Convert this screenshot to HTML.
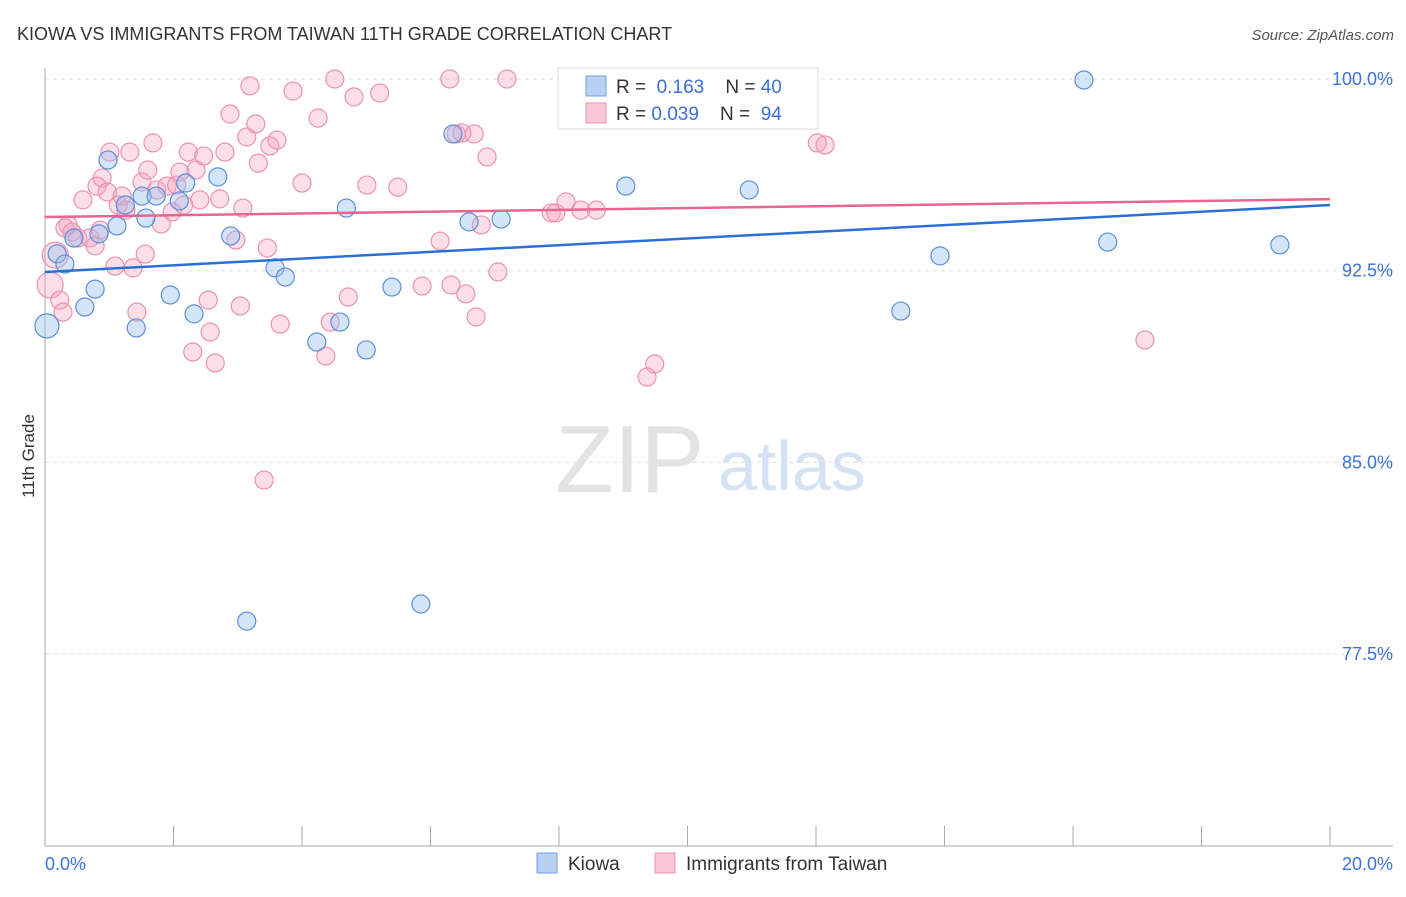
<!DOCTYPE html>
<html><head><meta charset="utf-8"><style>
body{margin:0;background:#fff;font-family:"Liberation Sans",sans-serif}
svg text{font-family:"Liberation Sans",sans-serif}
</style></head><body>
<svg id="c" width="1406" height="892">
<text x="17" y="40" font-size="18" fill="#333">KIOWA VS IMMIGRANTS FROM TAIWAN 11TH GRADE CORRELATION CHART</text>
<text x="1394" y="40" font-size="15" fill="#555" text-anchor="end" font-style="italic">Source: ZipAtlas.com</text>
<text x="0" y="0" transform="translate(34,456) rotate(-90)" font-size="17" fill="#333" text-anchor="middle">11th Grade</text>
<g id="grid"></g>
<text x="555" y="492" font-size="96" fill="#e3e3e3" font-family="Liberation Serif">ZIP</text>
<text x="718" y="490" font-size="70" fill="#d5e2f3">atlas</text>
<g id="pts"></g>
<g id="trend"></g>
<g>
<rect x="558" y="68" width="260" height="61" fill="#fff" stroke="#ddd"/>
<rect x="586" y="76" width="20" height="20" fill="#b8d1f3" stroke="#6f9fe0"/>
<text x="616" y="93" font-size="19" fill="#333">R = <tspan fill="#3a6fd8">&#160;0.163</tspan>&#160;&#160;&#160; N = <tspan fill="#3a6fd8">40</tspan></text>
<rect x="586" y="103" width="20" height="20" fill="#f8c6d6" stroke="#ec92b0"/>
<text x="616" y="120" font-size="19" fill="#333">R = <tspan fill="#3a6fd8">0.039</tspan>&#160;&#160;&#160; N = <tspan fill="#3a6fd8">&#160;94</tspan></text>
</g>
<g>
<rect x="537" y="853" width="20" height="20" fill="#b8d1f3" stroke="#6f9fe0"/>
<text x="568" y="870" font-size="19" fill="#333">Kiowa</text>
<rect x="655" y="853" width="20" height="20" fill="#f8c6d6" stroke="#ec92b0"/>
<text x="686" y="870" font-size="19" fill="#333">Immigrants from Taiwan</text>
</g>
</svg>
<script>
const yTicks=[100,92.5,85,77.5];
const yTickLabels=["100.0%","92.5%","85.0%","77.5%"];
const xTickLabels=["0.0%","20.0%"];
const kiowaX=[0.03,0.19,0.31,0.45,0.62,0.78,0.84,0.98,1.12,1.25,1.42,1.51,1.57,1.73,1.95,2.09,2.19,2.32,2.69,2.89,3.58,3.74,4.23,4.59,4.69,5.00,5.40,5.85,3.14,6.35,6.60,7.10,9.04,9.11,10.96,13.32,13.93,16.17,16.54,19.22];
const kiowaY=[90.34,93.16,92.76,93.78,91.08,91.78,93.94,96.83,94.25,95.07,90.26,95.42,94.56,95.42,91.55,95.23,95.93,90.81,96.17,93.86,92.61,92.25,89.71,90.49,94.95,89.40,91.86,79.46,78.79,97.85,94.41,94.52,95.81,99.96,95.66,90.92,93.08,99.96,93.62,93.51];
const taiwanX=[0.08,0.16,0.23,0.28,0.36,0.42,0.51,0.59,0.70,0.78,0.81,0.89,0.97,1.01,1.09,1.14,1.20,1.26,1.32,1.37,1.43,1.51,1.56,1.60,1.68,1.74,1.81,1.90,1.98,2.05,2.10,2.16,2.23,2.30,2.35,2.41,2.47,2.54,2.57,2.65,2.72,2.80,2.88,2.97,3.04,3.08,3.14,3.19,3.28,3.32,3.41,3.46,3.50,3.61,3.66,3.86,4.00,4.25,4.37,4.44,4.51,4.72,4.81,5.01,5.21,5.49,5.87,6.15,6.30,6.32,6.40,6.49,6.55,6.68,6.71,6.79,6.88,7.05,7.19,7.88,7.95,8.11,8.34,8.58,9.37,9.49,11.75,12.02,12.14,17.12,0.31,0.86];
const taiwanY=[91.94,93.11,91.35,90.88,94.29,94.01,93.78,95.27,93.78,93.47,95.81,96.13,95.58,97.14,92.68,95.07,95.42,94.87,97.14,92.61,90.88,95.97,93.15,96.44,97.50,95.66,94.33,95.81,94.80,95.85,96.36,95.07,97.14,89.32,96.44,95.27,96.99,91.35,90.10,88.89,95.31,97.14,98.63,93.70,91.12,94.95,97.73,99.73,98.24,96.71,84.31,93.39,97.38,97.61,90.41,99.53,95.93,98.47,89.16,90.49,100.0,91.47,99.30,95.85,99.45,95.77,91.90,93.66,100.0,91.94,97.85,97.89,91.59,97.85,90.69,94.29,96.95,92.45,100.0,94.76,94.76,95.19,94.87,94.87,88.34,88.85,100.0,97.50,97.42,89.79,94.17,94.09];
const kiowaTrend=[92.45,95.07];
const taiwanTrend=[94.60,95.30];
const NS="http://www.w3.org/2000/svg";
const X=v=>45+v/20*1285;
const Y=v=>79+(100-v)/7.5*191.7;
function mk(t,a,p){const e=document.createElementNS(NS,t);for(const k in a)e.setAttribute(k,a[k]);p.appendChild(e);return e;}
const grid=document.getElementById('grid');
yTicks.forEach((t,i)=>{
 const l=mk('line',{x1:45,x2:1393,y1:Y(t),y2:Y(t),stroke:'#ddd','stroke-dasharray':'4,4'},grid);
 
 
 const tx=mk('text',{x:1393,y:Y(t)+6,'font-size':18,fill:'#3d72d9','text-anchor':'end'},grid);
 tx.textContent=yTickLabels[i];
 
 
});
const ax=mk('line',{x1:45,x2:45,y1:68,y2:846,stroke:'#aaa'},grid);


const bx=mk('line',{x1:45,x2:1393,y1:846,y2:846,stroke:'#aaa'},grid);


for(let i=0;i<=10;i++){
 const tk=mk('line',{x1:X(i*2),x2:X(i*2),y1:826,y2:846,stroke:'#aaa'},grid);
 
 
}
[[0,45,'start'],[20,1393,'end']].forEach((d,i)=>{
 const t=mk('text',{x:d[1],y:870,'font-size':18,fill:'#3d72d9','text-anchor':d[2]},grid);
 t.textContent=xTickLabels[i];
 
 
});
const pts=document.getElementById('pts');
taiwanX.forEach((x,i)=>{
 const r=i<2?13:9;
 const c=mk('circle',{cx:X(x),cy:Y(taiwanY[i]),r:r,fill:'rgba(245,160,190,0.35)',stroke:'#ec92b0','stroke-width':1.2},pts);
 
 
});
kiowaX.forEach((x,i)=>{
 const r=i===0?12:9;
 const c=mk('circle',{cx:X(x),cy:Y(kiowaY[i]),r:r,fill:'rgba(150,190,240,0.4)',stroke:'#5b8fdc','stroke-width':1.2},pts);
 
 
});
const tr=document.getElementById('trend');
const l1=mk('line',{x1:X(0),x2:X(20),y1:Y(kiowaTrend[0]),y2:Y(kiowaTrend[1]),stroke:'#2a6fd6','stroke-width':2.5},tr);


const l2=mk('line',{x1:X(0),x2:X(20),y1:Y(taiwanTrend[0]),y2:Y(taiwanTrend[1]),stroke:'#e8658f','stroke-width':2.5},tr);


</script>
</body></html>
